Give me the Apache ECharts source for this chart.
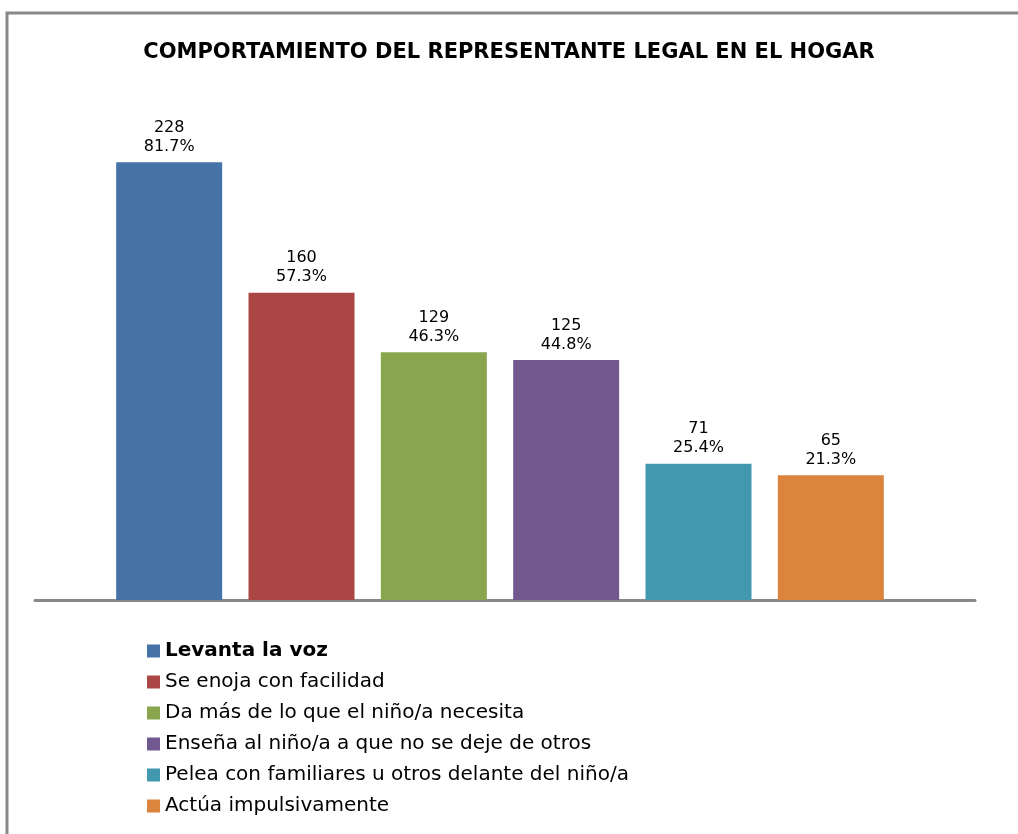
<!DOCTYPE html>
<html>
<head>
<meta charset="utf-8">
<style>
  html, body { margin: 0; padding: 0; background: #fff; }
  #chart { width: 1018px; height: 834px; }
</style>
<script src="https://cdn.jsdelivr.net/npm/echarts@6/dist/echarts.min.js"></script>
</head>
<body>
<div id="chart"></div>
<script>
  const categories = [
    'Levanta la voz',
    'Se enoja con facilidad',
    'Da más de lo que el niño/a necesita',
    'Enseña al niño/a a que no se deje de otros',
    'Pelea con familiares u otros delante del niño/a',
    'Actúa impulsivamente'
  ];
  const counts = [228, 160, 129, 125, 71, 65];
  const percentLabels = ['81.7%', '57.3%', '46.3%', '44.8%', '25.4%', '21.3%'];
  const colors = ['#4572A7', '#AA4643', '#89A54E', '#71588F', '#4198AF', '#DB843D'];

  const chart = echarts.init(document.getElementById('chart'));
  const font = '"DejaVu Sans", Arial, sans-serif';

  // one series per category so the legend lists each bar
  const series = categories.map((name, i) => ({
    name: name,
    type: 'bar',
    stack: 'all',
    barWidth: 106,
    data: categories.map((c, j) => (j === i ? counts[i] : '-')),
    itemStyle: { color: colors[i] },
    label: {
      show: true,
      position: 'top',
      distance: 6,
      color: '#000',
      fontFamily: font,
      fontSize: 16,
      lineHeight: 19,
      formatter: p => counts[p.dataIndex] + '\n' + percentLabels[p.dataIndex]
    }
  }));

  chart.setOption({
    animation: false,
    title: {
      text: 'COMPORTAMIENTO DEL REPRESENTANTE LEGAL EN EL HOGAR',
      left: 'center',
      top: 37,
      textStyle: { fontFamily: font, fontSize: 21, fontWeight: 'bold', color: '#000' }
    },
    legend: {
      orient: 'vertical',
      left: 142,
      top: 635,
      itemWidth: 13,
      itemHeight: 13,
      itemGap: 9,
      icon: 'rect',
      data: categories,
      formatter: name => (name === categories[0] ? '{b|' + name + '}' : name),
      textStyle: {
        fontFamily: font,
        fontSize: 20,
        lineHeight: 22,
        color: '#000',
        rich: { b: { fontFamily: font, fontSize: 20, fontWeight: 'bold', color: '#000' } }
      }
    },
    grid: [
      { left: 103, right: 121, top: 120, bottom: 234 },
      { left: 35, right: 43, top: 120, bottom: 234 }
    ],
    xAxis: [
      {
        type: 'category',
        gridIndex: 0,
        data: categories,
        axisLine: { show: false },
        axisTick: { show: false },
        axisLabel: { show: false }
      },
      {
        type: 'category',
        gridIndex: 1,
        data: [''],
        axisLine: { show: true, lineStyle: { color: '#888', width: 3 } },
        axisTick: { show: false },
        axisLabel: { show: false }
      }
    ],
    yAxis: [
      { type: 'value', gridIndex: 0, min: 0, max: 250, show: false, splitLine: { show: false } },
      { type: 'value', gridIndex: 1, min: 0, max: 250, show: false, splitLine: { show: false } }
    ],
    series: series,
    graphic: [
      {
        type: 'polyline',
        shape: { points: [[7, 834], [7, 13], [1018, 13]] },
        style: { stroke: '#888', lineWidth: 3, fill: null }
      }
    ]
  });
</script>
</body>
</html>
